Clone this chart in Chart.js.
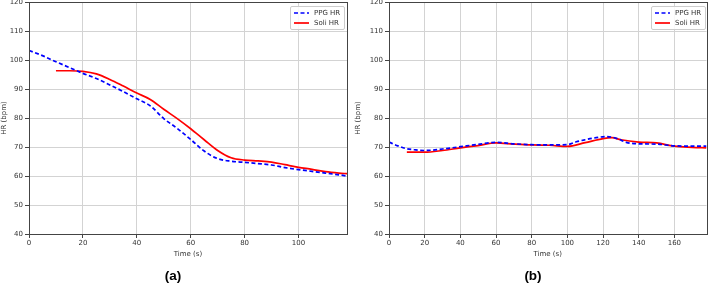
<!DOCTYPE html>
<html>
<head>
  <title>HR comparison</title>
  <script src="https://cdn.jsdelivr.net/npm/chart.js"></script>
  <style>
    body {
      margin: 0;
      width: 708px;
      height: 286px;
      background: #fff;
      position: relative;
      overflow: hidden;
      font-family: "DejaVu Sans", sans-serif;
    }
    .panel {
      position: absolute;
      top: 0;
      width: 354px;
      height: 286px;
    }
    .tag {
      position: absolute;
      top: 268px;
      font: bold 13.5px "Liberation Sans", Arial, sans-serif;
      color: #000;
      transform: translateX(-50%);
    }
    .legend {
      position: absolute;
      top: 6px;
      border: 1px solid #ccc;
      border-radius: 2px;
      background: rgba(255,255,255,0.85);
      padding: 2px 4px 1px 3px;
      font-size: 7px;
      color: #333;
      line-height: 9.5px;
    }
    .legend div { white-space: nowrap; }
    .legend svg { vertical-align: middle; margin-right: 5px; }
  </style>
</head>
<body>
  <div class="panel" style="left:0"><canvas id="chartA"></canvas></div>
  <div class="panel" style="left:354px"><canvas id="chartB"></canvas></div>
  <div class="tag" style="left:173px">(a)</div>
  <div class="tag" style="left:533px">(b)</div>
  <div class="legend" style="left:290px">
    <div><svg width="15" height="4"><line x1="0" y1="2" x2="15" y2="2" stroke="#0000ff" stroke-width="1.7" stroke-dasharray="4,2.5"/></svg>PPG HR</div>
    <div><svg width="15" height="4"><line x1="0" y1="2" x2="15" y2="2" stroke="#ff0000" stroke-width="1.7"/></svg>Soli HR</div>
  </div>
  <div class="legend" style="left:651px">
    <div><svg width="15" height="4"><line x1="0" y1="2" x2="15" y2="2" stroke="#0000ff" stroke-width="1.7" stroke-dasharray="4,2.5"/></svg>PPG HR</div>
    <div><svg width="15" height="4"><line x1="0" y1="2" x2="15" y2="2" stroke="#ff0000" stroke-width="1.7"/></svg>Soli HR</div>
  </div>

  <script>
    // panel (a)
    const leftPpgTime = [0, 5, 10, 15, 20, 25, 30, 35, 40, 45, 50, 55, 60, 65, 70, 75, 80, 85, 90, 95, 100, 105, 110, 115, 118];
    const leftPpgHr = [103.3, 101.5, 99.4, 97.4, 95.4, 93.6, 91.4, 89.1, 86.6, 84.2, 79.8, 76.4, 72.6, 68.6, 66.0, 65.1, 64.7, 64.3, 63.8, 62.9, 62.2, 61.6, 61.0, 60.4, 60.0];
    const leftSoliTime = [10, 15, 20, 25, 30, 35, 40, 45, 50, 55, 60, 65, 70, 75, 80, 85, 90, 95, 100, 105, 110, 115, 118];
    const leftSoliHr = [96.3, 96.3, 96.1, 95.2, 93.3, 91.0, 88.6, 86.4, 83.0, 79.8, 76.3, 72.5, 68.8, 66.3, 65.5, 65.2, 64.8, 63.9, 63.0, 62.3, 61.5, 61.0, 60.8];

    // panel (b)
    const rightPpgTime = [0, 5, 10, 15, 20, 30, 40, 50, 60, 70, 80, 90, 100, 105, 110, 115, 122, 128, 133, 140, 150, 160, 170, 178];
    const rightPpgHr = [71.7, 70.4, 69.4, 69.0, 68.8, 69.3, 70.1, 70.9, 71.6, 71.1, 70.8, 70.7, 70.8, 71.8, 72.5, 73.1, 73.6, 72.9, 71.6, 71.1, 71.0, 70.4, 70.3, 70.3];
    const rightSoliTime = [10, 20, 30, 40, 50, 60, 70, 80, 90, 100, 110, 120, 125, 130, 140, 150, 160, 170, 178];
    const rightSoliHr = [68.2, 68.2, 68.8, 69.7, 70.5, 71.4, 71.0, 70.7, 70.6, 70.2, 71.5, 72.9, 73.2, 72.5, 71.7, 71.4, 70.3, 69.9, 69.7];

    const yTicks = [40, 50, 60, 70, 80, 90, 100, 110, 120];

    function toPoints(xs, ys) {
      return xs.map((x, i) => ({ x: x, y: ys[i] }));
    }

    // matplotlib style frame round the plot area
    const framePlugin = {
      id: 'frame',
      afterDraw(chart) {
        const a = chart.chartArea;
        const ctx = chart.ctx;
        ctx.save();
        ctx.strokeStyle = '#444';
        ctx.lineWidth = 1;
        ctx.strokeRect(Math.round(a.left) + 0.5, Math.round(a.top) + 0.5, Math.round(a.right - a.left), Math.round(a.bottom - a.top));
        ctx.restore();
      }
    };

    function makeChart(id, ppg, soli, xMax, yWidth, padRight) {
      const tickFont = { family: 'DejaVu Sans', size: 7 };
      return new Chart(document.getElementById(id), {
        type: 'line',
        data: {
          datasets: [{
            label: 'PPG HR',
            data: ppg,
            borderColor: '#0000ff',
            borderWidth: 1.7,
            borderDash: [4, 2.5],
            pointRadius: 0,
            cubicInterpolationMode: 'monotone',
            fill: false
          }, {
            label: 'Soli HR',
            data: soli,
            borderColor: '#ff0000',
            borderWidth: 1.7,
            pointRadius: 0,
            cubicInterpolationMode: 'monotone',
            fill: false
          }]
        },
        options: {
          responsive: false,
          animation: false,
          layout: { padding: { top: 2, right: padRight, left: 0, bottom: 0 } },
          plugins: { legend: { display: false }, tooltip: { enabled: false } },
          scales: {
            x: {
              type: 'linear',
              min: 0,
              max: xMax,
              ticks: { stepSize: 20, includeBounds: false, font: tickFont, color: '#333', padding: 1 },
              grid: { color: '#d3d3d3', tickColor: '#444', tickLength: 4 },
              border: { display: false },
              title: { display: true, text: 'Time (s)', font: tickFont, color: '#333', padding: { top: 0, bottom: 28 } },
              afterFit(scale) {
                scale.height = 52;
                scale.paddingLeft = 0;
                scale.paddingRight = 0;
              }
            },
            y: {
              min: 40,
              max: 120,
              afterBuildTicks(scale) {
                scale.ticks = yTicks.map(v => ({ value: v }));
              },
              ticks: { font: tickFont, color: '#333', padding: 2 },
              grid: { color: '#d3d3d3', tickColor: '#444', tickLength: 4 },
              border: { display: false },
              title: { display: true, text: 'HR (bpm)', font: tickFont, color: '#333', padding: 0 },
              afterFit(scale) {
                scale.width = yWidth;
                scale.paddingTop = 0;
                scale.paddingBottom = 0;
              }
            }
          }
        },
        plugins: [framePlugin]
      });
    }

    ['chartA', 'chartB'].forEach(id => {
      const c = document.getElementById(id);
      c.width = 354;
      c.height = 286;
    });

    makeChart('chartA', toPoints(leftPpgTime, leftPpgHr), toPoints(leftSoliTime, leftSoliHr), 118, 29, 7);
    makeChart('chartB', toPoints(rightPpgTime, rightPpgHr), toPoints(rightSoliTime, rightSoliHr), 178, 35, 1.5);
  </script>
</body>
</html>
